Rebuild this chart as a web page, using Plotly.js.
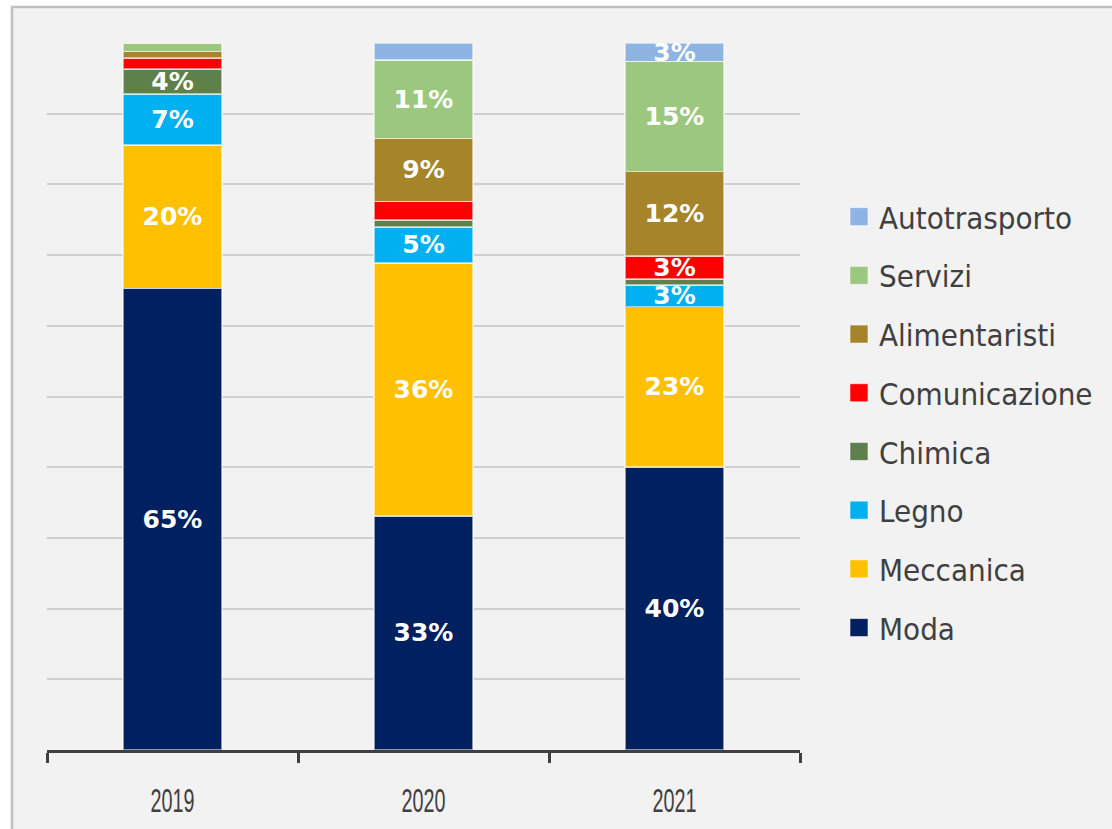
<!DOCTYPE html>
<html>
<head>
<meta charset="utf-8">
<script src="https://cdn.plot.ly/plotly-3.0.1.min.js"></script>
<style>
html,body{margin:0;padding:0;background:#ffffff;}
#chart{width:1112px;height:829px;}
</style>
</head>
<body>
<div id="chart"></div>
<script>
// ---- data ----
const years = ["2019", "2020", "2021"];
const sectors = ["Moda", "Meccanica", "Legno", "Chimica", "Comunicazione", "Alimentaristi", "Servizi", "Autotrasporto"];
const moda          = [65.3, 33.1, 40.0];
const meccanica     = [20.3, 35.8, 22.7];
const legno         = [7.2, 5.1, 3.1];
const chimica       = [3.5, 1.0, 0.8];
const comunicazione = [1.6, 2.6, 3.3];
const alimentaristi = [0.9, 8.9, 11.9];
const servizi       = [1.2, 11.1, 15.6];
const autotrasporto = [0.0, 2.4, 2.6];

const labModa          = ["65%", "33%", "40%"];
const labMeccanica     = ["20%", "36%", "23%"];
const labLegno         = ["7%", "5%", "3%"];
const labChimica       = ["4%", "", ""];
const labComunicazione = ["", "", "3%"];
const labAlimentaristi = ["", "9%", "12%"];
const labServizi       = ["", "11%", "15%"];
const labAutotrasporto = ["", "", "3%"];

const colors = ["#002060", "#FFC000", "#00B0F0", "#5E804A", "#FF0000", "#A5842A", "#9CC77E", "#8DB4E2"];

const values = [moda, meccanica, legno, chimica, comunicazione, alimentaristi, servizi, autotrasporto];
const labels = [labModa, labMeccanica, labLegno, labChimica, labComunicazione, labAlimentaristi, labServizi, labAutotrasporto];

const traces = sectors.map((name, i) => ({
  type: "bar",
  name: name,
  x: years,
  y: values[i],
  text: labels[i],
  textposition: "inside",
  insidetextanchor: "middle",
  constraintext: "none",
  textangle: 0,
  textfont: {family: "DejaVu Sans, Verdana, sans-serif", size: 25, color: "#ffffff", weight: "bold"},
  marker: {color: colors[i], line: {color: "rgba(255,255,255,0.55)", width: 1.5}},
  hoverinfo: "name+y",
  legendgroup: name,
  legendrank: sectors.length - i
}));

// pixel helpers for the frame
const L = 47, R = 800, T = 43, B = 750;
const px = v => (v - L) / (R - L);
const py = v => (B - v) / (B - T);

const layout = {
  width: 1112, height: 829,
  margin: {l: L, r: 1112 - R, t: T, b: 829 - B, pad: 0},
  paper_bgcolor: "#ffffff",
  plot_bgcolor: "rgba(0,0,0,0)",
  barmode: "stack",
  bargap: 0.605,
  showlegend: true,
  legend: {
    x: px(839), xanchor: "left",
    y: py(422.5), yanchor: "middle",
    traceorder: "grouped",
    tracegroupgap: 15.4,
    font: {family: "DejaVu Sans Condensed, DejaVu Sans, sans-serif", size: 31, color: "#404040"},
    bgcolor: "rgba(0,0,0,0)",
    itemclick: false
  },
  xaxis: {
    type: "category",
    showgrid: false,
    showline: true, linecolor: "#404040", linewidth: 3,
    ticks: "outside", tickson: "boundaries", ticklen: 10, tickwidth: 3, tickcolor: "#404040",
    tickfont: {family: "Liberation Sans, Arial, sans-serif", size: 34, color: "#404040"},
    ticklabelstandoff: 18,
    fixedrange: true
  },
  yaxis: {
    range: [0, 100],
    dtick: 10, tick0: 0,
    showgrid: true, gridcolor: "#cfcfcf", gridwidth: 2,
    showticklabels: false, ticks: "",
    zeroline: false, showline: false,
    fixedrange: true
  },
  shapes: [
    {type: "rect", xref: "paper", yref: "paper", layer: "below",
     x0: px(11), x1: px(1115), y0: py(6), y1: py(832),
     fillcolor: "#f2f2f2", line: {width: 0}},
    {type: "line", xref: "paper", yref: "paper", layer: "below",
     x0: px(11), x1: px(1115), y0: py(7), y1: py(7), line: {color: "#c0c0c0", width: 2.5}},
    {type: "line", xref: "paper", yref: "paper", layer: "below",
     x0: px(12), x1: px(12), y0: py(6), y1: py(832), line: {color: "#c0c0c0", width: 2.5}}
  ]
};

Plotly.newPlot("chart", traces, layout, {displayModeBar: false}).then(gd => {
  // the reference year labels use a tall, condensed face: squeeze them horizontally
  gd.querySelectorAll(".xtick text").forEach(t => {
    t.setAttribute("textLength", "44");
    t.setAttribute("lengthAdjust", "spacingAndGlyphs");
  });
  // larger square legend swatches, as in the reference
  gd.querySelectorAll(".legendpoints path").forEach(p => {
    p.setAttribute("d", "M9,9H-9V-9H9Z");
    p.style.strokeWidth = "1px";
  });
});
</script>
</body>
</html>
